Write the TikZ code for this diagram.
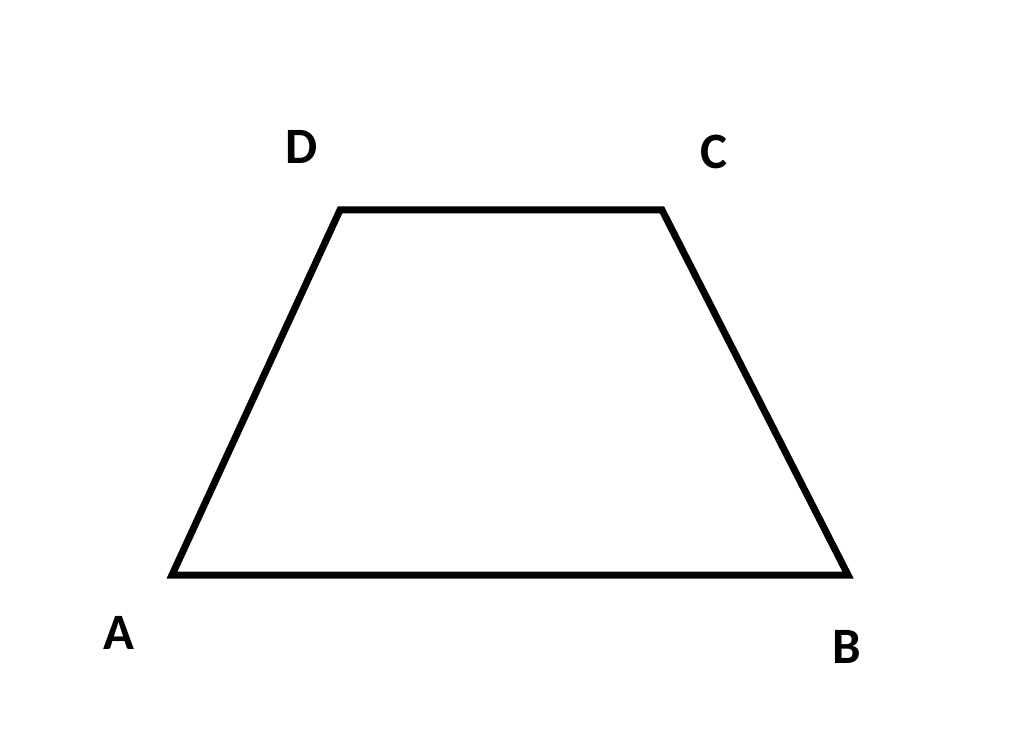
\documentclass[tikz,border=0pt]{standalone}
\usepackage{fontspec}
\setmainfont{Carlito}
\begin{document}
\begin{tikzpicture}[x=1pt,y=1pt,
  edge/.style={line width=7pt,line join=miter,black},
  lab/.style={font=\fontsize{51}{51}\selectfont\bfseries,inner sep=0pt,anchor=center}]
\useasboundingbox[fill=white] (0,0) rectangle (1024,737);
\coordinate (A) at (172,162);
\coordinate (B) at (848,162);
\coordinate (C) at (662,527);
\coordinate (D) at (340,527);
\draw[edge] (A) -- (B) -- (C) -- (D) -- cycle;
\node[lab] (lA) at (119,104) {A};
\node[lab] (lB) at (847,90) {B};
\node[lab] (lC) at (714,585) {C};
\node[lab] (lD) at (302,590) {D};
\end{tikzpicture}
\end{document}
